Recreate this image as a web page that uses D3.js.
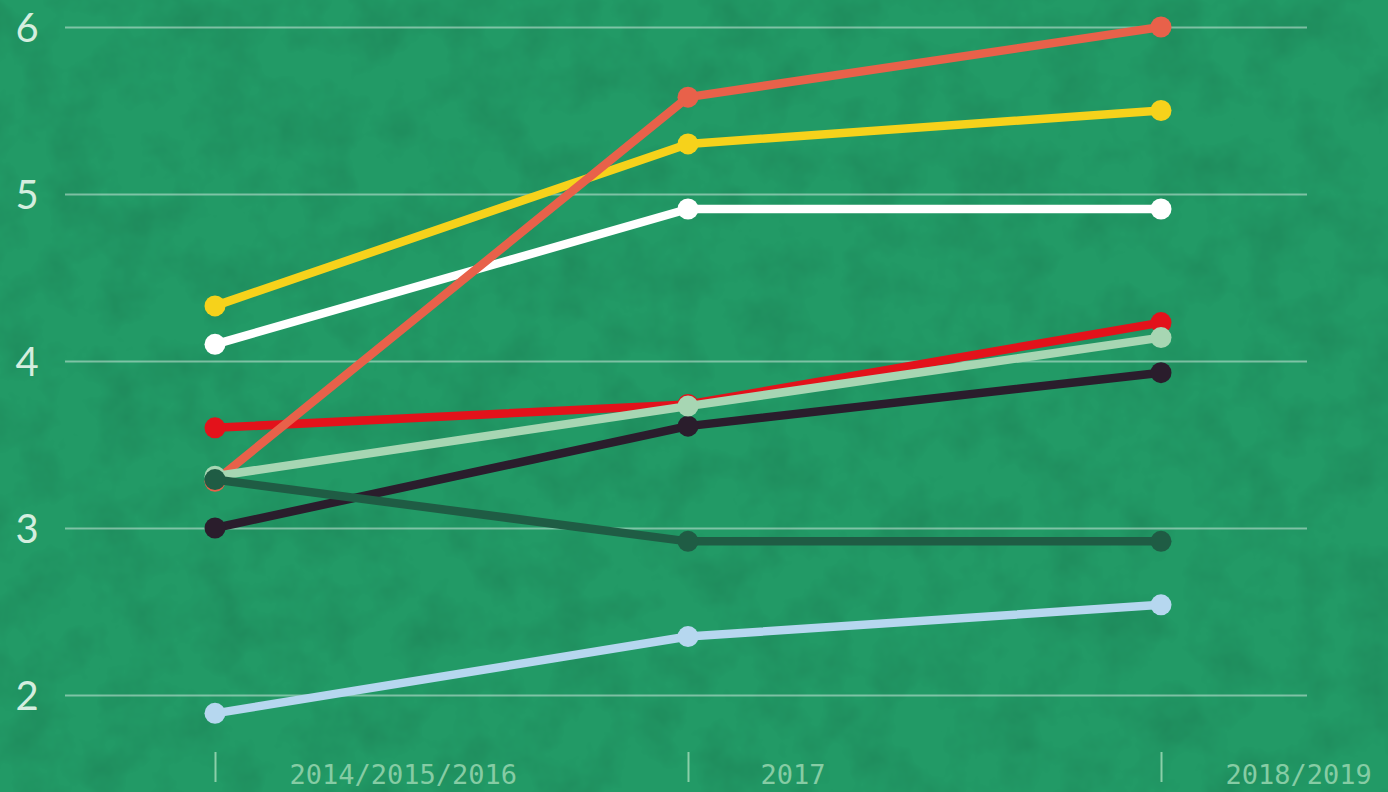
<!DOCTYPE html>
<html><head><meta charset="utf-8">
<script src="https://cdn.jsdelivr.net/npm/d3@7"></script>
<style>html,body{margin:0;padding:0;background:#22996a;overflow:hidden}</style>
</head><body>
<svg id="c" width="1388" height="792"></svg>
<script>
const periods = ["2014/2015/2016", "2017", "2018/2019"];
const yTicks = [2, 3, 4, 5, 6];
const seriesNames = ["lightblue", "darkgreen", "black", "red", "white", "yellow", "orange", "lightgreen"];
const seriesColors = ["#b6d7ef", "#1f5c44", "#2a1d2c", "#e3121b", "#ffffff", "#f6d21b", "#e8614a", "#a7d6b3"];
const lightblue = [1.89, 2.35, 2.54];
const darkgreen = [3.29, 2.92, 2.92];
const black = [3.0, 3.61, 3.93];
const red = [3.6, 3.74, 4.23];
const white = [4.1, 4.91, 4.91];
const yellow = [4.33, 5.3, 5.5];
const orange = [3.28, 5.58, 6.0];
const lightgreen = [3.31, 3.73, 4.14];
const seriesValues = [lightblue, darkgreen, black, red, white, yellow, orange, lightgreen];
const drawOrder = [0, 2, 4, 5, 3, 6, 7, 1];
const labelOffsets = [74, 72, 64];

const svg = d3.select("#c");
const W = 1388, H = 792;

const defs = svg.append("defs");
const f = defs.append("filter").attr("id", "tex").attr("x", 0).attr("y", 0).attr("width", "100%").attr("height", "100%");
f.append("feTurbulence").attr("type", "fractalNoise").attr("baseFrequency", 0.02).attr("numOctaves", 4).attr("seed", 7).attr("result", "n");
f.append("feColorMatrix").attr("in", "n").attr("type", "matrix")
  .attr("values", "0 0 0 0 0  0 0 0 0 0  0 0 0 0 0  0 0 0 -1 0.6").attr("result", "a");
f.append("feComposite").attr("in", "a").attr("in2", "SourceGraphic").attr("operator", "in");
svg.append("rect").attr("width", W).attr("height", H).attr("fill", "#229a66");
svg.append("rect").attr("width", W).attr("height", H).attr("fill", "#167e52").attr("filter", "url(#tex)").attr("opacity", 0.18);

const x = d3.scalePoint().domain(periods).range([215, 1161]);
const y = d3.scaleLinear().domain([2, 6]).range([695, 27]);

const yAxis = d3.axisLeft(y).tickValues(yTicks).tickSize(-(1307 - 65)).tickFormat(d3.format("d"));
const gy = svg.append("g").attr("transform", "translate(65,0)").call(yAxis);
gy.select(".domain").remove();
gy.selectAll(".tick line").attr("stroke", "#ffffff").attr("stroke-opacity", 0.42).attr("stroke-width", 2);
gy.selectAll(".tick text").attr("x", -38).attr("text-anchor", "middle").attr("dy", "0.36em")
  .attr("fill", "#d4eedf").attr("font-family", "Lato, 'Open Sans', sans-serif").attr("font-size", 40).attr("font-weight", 400);

const xAxis = d3.axisBottom(x).tickSize(30).tickPadding(0);
const gx = svg.append("g").attr("transform", "translate(0,752)").call(xAxis);
gx.select(".domain").remove();
gx.selectAll(".tick line").attr("stroke", "#8bcfa9").attr("stroke-width", 2);
gx.selectAll(".tick text").attr("x", (d, i) => labelOffsets[i]).attr("y", 23).attr("text-anchor", "start").attr("dy", "0.35em")
  .attr("fill", "#86cca4").attr("font-family", "'DejaVu Sans Mono', monospace").attr("font-size", 27);

const line = d3.line().x((d, i) => x(periods[i])).y(d => y(d));
const g = svg.append("g");
drawOrder.forEach(k => {
  const s = g.append("g");
  s.append("path").datum(seriesValues[k]).attr("d", line).attr("fill", "none")
    .attr("stroke", seriesColors[k]).attr("stroke-width", 8.5).attr("stroke-linejoin", "round");
  s.selectAll("circle").data(seriesValues[k]).join("circle")
    .attr("cx", (d, i) => x(periods[i])).attr("cy", d => y(d)).attr("r", 10.5).attr("fill", seriesColors[k]);
});
</script>
</body></html>
